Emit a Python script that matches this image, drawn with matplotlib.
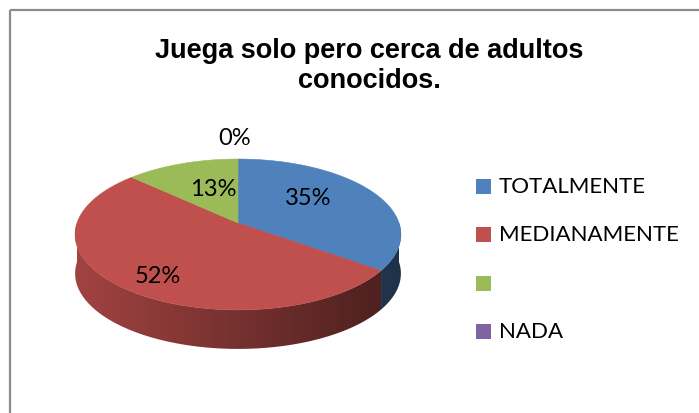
import numpy as np
import matplotlib
matplotlib.use("Agg")
import matplotlib.pyplot as plt
from matplotlib.patches import Polygon, Rectangle
from matplotlib.colors import to_rgb

# data
title = "Juega solo pero cerca de adultos\nconocidos."
labels = ["TOTALMENTE", "MEDIANAMENTE", "", "NADA"]
values = [35, 52, 13, 0]
colors = ["#4f81bd", "#c0504d", "#9bbb59", "#8064a2"]

# pie geometry in pixels (3D look with a bit of perspective)
CX, CY = 238, 224
A, B, K = 161, 73.7, 0.152
DEPTH = 39
# small hand nudges so the labels sit where Excel put them
label_nudge = [(-15, -6), (-12, 15), (12, 4), (-3, 0)]


def proj(theta, r=1.0):
    t = np.radians(theta)
    u = r * np.sin(t)
    v = r * np.cos(t)
    d = 1 + K * v
    return CX + A * u / d, CY - B * v / d


fig = plt.figure(figsize=(6.99, 4.14), dpi=100)
ax = fig.add_axes([0, 0, 1, 1])
ax.set_xlim(0, 699)
ax.set_ylim(414, 0)
ax.axis("off")

# chart border (only top and left are visible in the crop)
ax.plot([9.5, 699], [10.5, 10.5], color="#8c8c8c", lw=1.6, solid_capstyle="butt")
ax.plot([9.5, 9.5], [10.5, 414], color="#8c8c8c", lw=1.6, solid_capstyle="butt")

total = sum(values)
bounds = np.cumsum([0] + values) / total * 360

# side wall: front part of every slice, filled with a left-to-right dark gradient
grad_x = np.linspace(70, 405, 200)
grad_f = 0.84 - (grad_x - 74) / (402 - 74) * 0.46
for i, c in enumerate(colors):
    a0, a1 = max(bounds[i], 90), min(bounds[i + 1], 270)
    if a1 <= a0:
        continue
    th = np.linspace(a0, a1, 200)
    xs, ys = proj(th)
    pts = list(zip(xs, ys)) + list(zip(xs[::-1], ys[::-1] + DEPTH))
    side = Polygon(pts, closed=True, facecolor="none", edgecolor="none")
    ax.add_patch(side)
    img = np.clip(np.array(to_rgb(c))[None, None, :] * grad_f[None, :, None], 0, 1)
    im = ax.imshow(img, extent=(70, 405, 365, 150), aspect="auto",
                   interpolation="bilinear", zorder=1)
    im.set_clip_path(side)

# top face
for i, c in enumerate(colors):
    a0, a1 = bounds[i], bounds[i + 1]
    if a1 <= a0:
        continue
    th = np.linspace(a0, a1, max(2, int((a1 - a0) * 2) + 1))
    xs, ys = proj(th)
    pts = [(CX, CY)] + list(zip(xs, ys))
    ax.add_patch(Polygon(pts, closed=True, facecolor=c, edgecolor=c, lw=0.4, zorder=2))

# percentage labels
lab_font = ["Lato", "DejaVu Sans"]
for i, v in enumerate(values):
    mid = (bounds[i] + bounds[i + 1]) / 2
    r = 0.62 if v > 0 else 1.4
    lx, ly = proj(mid, r)
    dx, dy = label_nudge[i]
    ax.text(lx + dx, ly + dy, f"{v / total * 100:.0f}%", ha="center", va="center",
            fontsize=17, family=lab_font, color="black", zorder=3)

# title
ax.text(369, 66, title, ha="center", va="center", fontsize=19.5, fontweight="bold",
        family="Liberation Sans", linespacing=1.2)

# legend
for i, (lab, c) in enumerate(zip(labels, colors)):
    yy = 187 + i * 48.5
    ax.add_patch(Rectangle((476, yy - 7.5), 15, 15, facecolor=c, edgecolor="none"))
    ax.text(499, yy, lab, ha="left", va="center", fontsize=16, family=lab_font)

fig.savefig("out.png", dpi=100)
